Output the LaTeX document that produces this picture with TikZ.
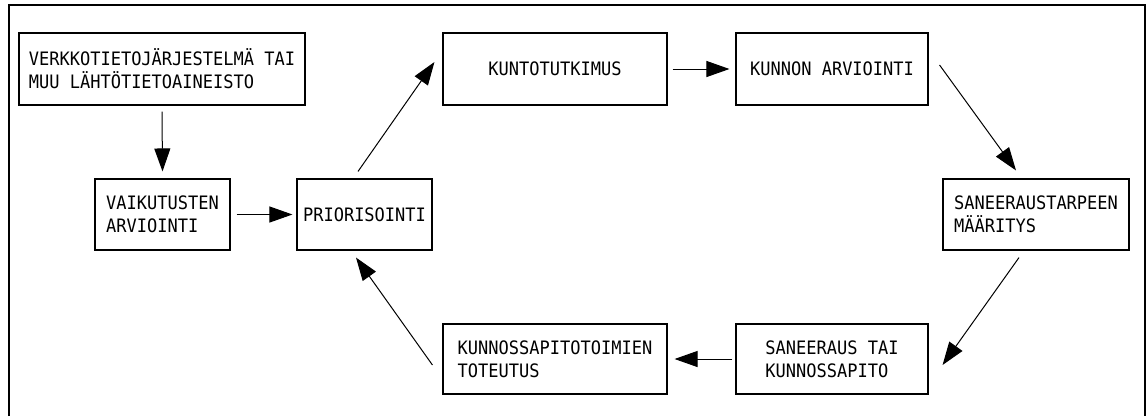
\documentclass[tikz,border=0pt]{standalone}
\usepackage{fontspec}
\newfontfamily\cadfont[FakeStretch=0.92]{DejaVu Sans Mono}
\usetikzlibrary{arrows.meta}
\begin{document}
\begin{tikzpicture}[x=1pt,y=1pt,
  box/.style={draw,line width=1.1pt,inner sep=0pt,align=left,
    font=\cadfont\fontsize{18.5}{23}\selectfont},
  flow/.style={line width=1pt,-{Triangle[length=23pt,width=16pt]}},
  frame/.style={line width=2.6pt}]
\useasboundingbox (0,0) rectangle (1147,-416);
\draw[frame] (9,-416) -- (9,-5) -- (1145,-5) -- (1145,-416);
\node[box,minimum width=286pt,minimum height=72pt] (verkko) at (162,-69) {VERKKOTIETOJÄRJESTELMÄ TAI\\MUU LÄHTÖTIETOAINEISTO};
\node[box,minimum width=135pt,minimum height=71pt] (vaik) at (162.5,-214.5) {VAIKUTUSTEN\\ARVIOINTI};
\node[box,minimum width=135pt,minimum height=71pt] (prior) at (364.5,-214.5) {PRIORISOINTI};
\node[box,minimum width=224pt,minimum height=72pt] (kunto) at (555,-69) {KUNTOTUTKIMUS};
\node[box,minimum width=192pt,minimum height=72pt] (kunnon) at (832,-69) {KUNNON ARVIOINTI};
\node[box,minimum width=186pt,minimum height=71pt] (tarve) at (1036,-214.5) {SANEERAUSTARPEEN\\MÄÄRITYS};
\node[box,minimum width=192pt,minimum height=70pt] (saneeraus) at (832,-359) {SANEERAUS TAI\\KUNNOSSAPITO};
\node[box,minimum width=224pt,minimum height=70pt] (toteutus) at (555,-359) {KUNNOSSAPITOTOIMIEN\\TOTEUTUS};
\draw[flow] ([yshift=-6pt]verkko.south) -- ([yshift=7pt]vaik.north);
\draw[flow] ([xshift=6pt]vaik.east) -- ([xshift=-4pt]prior.west);
\draw[flow] ([shift={(-6.5,7)}]prior.north) -- ([shift={(-8,7)}]kunto.west);
\draw[flow] ([xshift=5pt]kunto.east) -- ([xshift=-6pt]kunnon.west);
\draw[flow] ([shift={(11,4)}]kunnon.east) -- ([shift={(-20,8)}]tarve.north);
\draw[flow] ([shift={(-17,-7)}]tarve.south) -- ([shift={(14,-6)}]saneeraus.east);
\draw[flow] ([xshift=-3pt]saneeraus.west) -- ([xshift=7pt]toteutus.east);
\draw[flow] ([shift={(-10,-6)}]toteutus.west) -- ([shift={(-8.5,-7)}]prior.south);
\end{tikzpicture}
\end{document}
